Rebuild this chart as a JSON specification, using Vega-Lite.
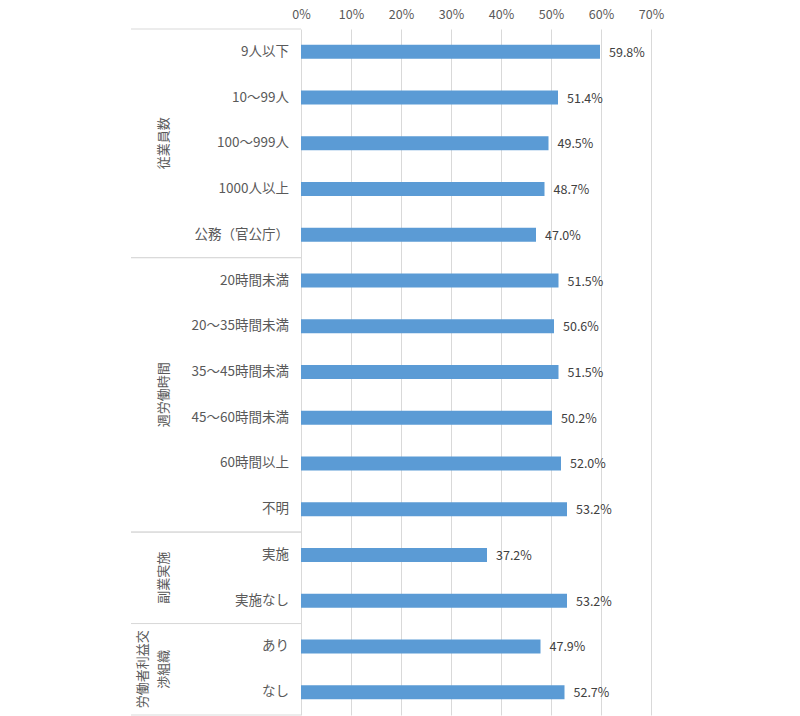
{
  "$schema": "https://vega.github.io/schema/vega-lite/v6.json",
  "padding": {"left": 130, "top": 8, "right": 10, "bottom": 1},
  "autosize": {"type": "pad"},
  "bounds": "flush",
  "spacing": 0,
  "config": {
    "view": {"stroke": null},
    "font": "Noto Sans CJK JP",
    "text": {"font": "Noto Sans CJK JP"}
  },
  "datasets": {
    "rows": [
      {"category": "9人以下", "group": "従業員数", "value": 0.598},
      {"category": "10〜99人", "group": "従業員数", "value": 0.514},
      {"category": "100〜999人", "group": "従業員数", "value": 0.495},
      {"category": "1000人以上", "group": "従業員数", "value": 0.487},
      {"category": "公務（官公庁）", "group": "従業員数", "value": 0.470},
      {"category": "20時間未満", "group": "週労働時間", "value": 0.515},
      {"category": "20〜35時間未満", "group": "週労働時間", "value": 0.506},
      {"category": "35〜45時間未満", "group": "週労働時間", "value": 0.515},
      {"category": "45〜60時間未満", "group": "週労働時間", "value": 0.502},
      {"category": "60時間以上", "group": "週労働時間", "value": 0.520},
      {"category": "不明", "group": "週労働時間", "value": 0.532},
      {"category": "実施", "group": "副業実施", "value": 0.372},
      {"category": "実施なし", "group": "副業実施", "value": 0.532},
      {"category": "あり", "group": "労働者利益交渉組織", "value": 0.479},
      {"category": "なし", "group": "労働者利益交渉組織", "value": 0.527}
    ],
    "groups": [
      {"group": "従業員数", "label": "従業員数", "first": "9人以下", "last": "公務（官公庁）", "mid": "100〜999人"},
      {"group": "週労働時間", "label": "週労働時間", "first": "20時間未満", "last": "不明", "mid": "35〜45時間未満"},
      {"group": "副業実施", "label": "副業実施", "first": "実施", "last": "実施なし", "mid": "実施"},
      {"group": "労働者利益交渉組織", "label": "労働者利益交\n渉組織", "first": "あり", "last": "なし", "mid": "あり"}
    ]
  },
  "resolve": {"scale": {"y": "shared"}},
  "hconcat": [
    {
      "width": 170,
      "height": 686,
      "layer": [
        {
          "data": {"name": "groups"},
          "mark": {"type": "rule", "color": "#d9d9d9", "strokeWidth": 1},
          "encoding": {
            "y": {"field": "first", "type": "nominal", "bandPosition": 0, "axis": null,
              "scale": {"type": "band", "paddingInner": 0, "paddingOuter": 0,
                "domain": ["9人以下","10〜99人","100〜999人","1000人以上","公務（官公庁）","20時間未満","20〜35時間未満","35〜45時間未満","45〜60時間未満","60時間以上","不明","実施","実施なし","あり","なし"]}}
          }
        },
        {
          "data": {"name": "groups"},
          "mark": {"type": "rule", "color": "#d9d9d9", "strokeWidth": 1},
          "encoding": {
            "y": {"field": "last", "type": "nominal", "bandPosition": 1, "axis": null}
          }
        },
        {
          "data": {"name": "rows"},
          "mark": {"type": "text", "align": "right", "baseline": "middle", "fontSize": 13.5, "color": "#595959", "dx": -12},
          "encoding": {
            "y": {"field": "category", "type": "nominal", "axis": null},
            "x": {"value": "width"},
            "text": {"field": "category"}
          }
        },
        {
          "data": {"name": "groups"},
          "transform": [{"filter": "datum.group === '従業員数'"}],
          "mark": {"type": "text", "angle": 270, "align": "center", "baseline": "middle", "fontSize": 13, "color": "#595959"},
          "encoding": {
            "y": {"field": "mid", "type": "nominal", "bandPosition": 0.5, "axis": null},
            "x": {"value": 33},
            "text": {"field": "label"}
          }
        },
        {
          "data": {"name": "groups"},
          "transform": [{"filter": "datum.group === '週労働時間' || datum.group === '副業実施'"}],
          "mark": {"type": "text", "angle": 270, "align": "center", "baseline": "middle", "fontSize": 13, "color": "#595959"},
          "encoding": {
            "y": {"field": "mid", "type": "nominal", "bandPosition": 1, "axis": null},
            "x": {"value": 33},
            "text": {"field": "label"}
          }
        },
        {
          "data": {"name": "groups"},
          "transform": [{"filter": "datum.group === '労働者利益交渉組織'"}],
          "mark": {"type": "text", "angle": 270, "align": "center", "baseline": "middle", "fontSize": 13, "color": "#595959", "lineBreak": "\n", "lineHeight": 21},
          "encoding": {
            "y": {"field": "mid", "type": "nominal", "bandPosition": 1, "axis": null},
            "x": {"value": 12},
            "text": {"field": "label"}
          }
        }
      ]
    },
    {
      "width": 350,
      "height": 686,
      "data": {"name": "rows"},
      "encoding": {
        "y": {"field": "category", "type": "nominal", "axis": null},
        "x": {
          "field": "value", "type": "quantitative",
          "scale": {"domain": [0, 0.7], "nice": false},
          "axis": {
            "orient": "top", "title": null, "format": "~%",
            "values": [0, 0.1, 0.2, 0.3, 0.4, 0.5, 0.6, 0.7],
            "domain": false, "ticks": false, "labelPadding": 8,
            "labelFontSize": 12.5, "labelColor": "#595959", "labelFont": "Noto Sans CJK JP",
            "grid": true, "gridColor": "#d9d9d9", "labelFlush": false
          }
        }
      },
      "layer": [
        {"mark": {"type": "bar", "size": 14, "color": "#5b9bd5"}},
        {
          "mark": {"type": "text", "align": "left", "baseline": "middle", "dx": 9, "dy": 1, "fontSize": 12.5, "color": "#404040"},
          "encoding": {"text": {"field": "value", "type": "quantitative", "format": ".1%"}}
        }
      ]
    }
  ]
}
